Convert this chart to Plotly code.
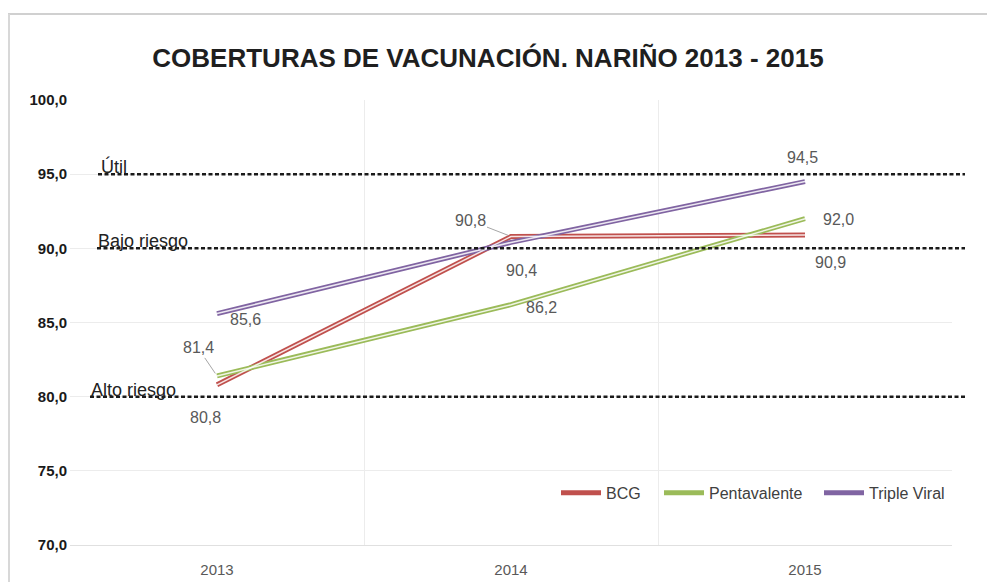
import plotly.graph_objects as go

years = ["2013", "2014", "2015"]
series_names = ["BCG", "Pentavalente", "Triple Viral"]
bcg = [80.8, 90.8, 90.9]
pentavalente = [81.4, 86.2, 92.0]
triple_viral = [85.6, 90.4, 94.5]
series_values = [bcg, pentavalente, triple_viral]
colors = ["#c0504d", "#9bbb59", "#8064a2"]

thresholds = [95.0, 90.0, 80.0]
threshold_labels = ["Útil", "Bajo riesgo", "Alto riesgo"]

FONT = "Liberation Sans Narrow, Arial Narrow, Liberation Sans, sans-serif"

# figure sized to fit the page body (which has an 8px default margin)
W, H = 987, 574
L, R, T, B = 62, 43, 92, 37
PW = W - L - R


def px_x(p):
    """pixel (reference) x -> paper x"""
    return (p - 8 - L) / PW


legend_ids = ["legend", "legend2", "legend3"]
legend_left_px = [556, 659, 819]

fig = go.Figure()
for name, vals, col, lg in zip(series_names, series_values, colors, legend_ids):
    fig.add_trace(go.Scatter(x=years, y=vals, mode="lines", name=name, legend=lg,
                             line=dict(color=col, width=5)))
for name, vals, col in zip(series_names, series_values, colors):
    fig.add_trace(go.Scatter(x=years, y=vals, mode="lines", name=name,
                             line=dict(color="rgba(255,255,255,0.85)", width=1.5),
                             showlegend=False, hoverinfo="skip"))

# threshold lines
line_start_px = [98, 97, 90]
label_start_px = [99, 96, 89]
for t, lab, ls, lb in zip(thresholds, threshold_labels, line_start_px, label_start_px):
    fig.add_shape(type="line", xref="paper", yref="y", x0=px_x(ls), x1=px_x(965), y0=t, y1=t,
                  line=dict(color="#1a1a1a", width=2.5, dash="4px,2.5px"))
    fig.add_annotation(xref="paper", yref="y", x=px_x(lb), y=t, text=lab, showarrow=False,
                       xanchor="left", yanchor="bottom", yshift=-5,
                       font=dict(family=FONT, size=18, color="#222222"))

# data labels: offsets per series/year (arrow offsets or plain shifts)
offsets = {
    ("BCG", 0): dict(ax=0, ay=0, xs=-12, ys=-33),
    ("BCG", 1): dict(ax=-41, ay=-16, xs=0, ys=0),
    ("BCG", 2): dict(ax=0, ay=0, xs=25, ys=-28),
    ("Pentavalente", 0): dict(ax=-19, ay=-28, xs=0, ys=0),
    ("Pentavalente", 1): dict(ax=0, ay=0, xs=30, ys=-3),
    ("Pentavalente", 2): dict(ax=0, ay=0, xs=33, ys=-1),
    ("Triple Viral", 0): dict(ax=0, ay=0, xs=28, ys=-6),
    ("Triple Viral", 1): dict(ax=0, ay=0, xs=10, ys=-28),
    ("Triple Viral", 2): dict(ax=0, ay=0, xs=-3, ys=24),
}
for name, vals in zip(series_names, series_values):
    for i, v in enumerate(vals):
        o = offsets[(name, i)]
        txt = f"{v:.1f}".replace(".", ",")
        if o["ax"] or o["ay"]:
            fig.add_annotation(x=i, y=v, text=txt, showarrow=True, arrowhead=0,
                               arrowwidth=1, arrowcolor="#a6a6a6", ax=o["ax"], ay=o["ay"],
                               standoff=3, font=dict(family=FONT, size=16, color="#595959"))
        else:
            fig.add_annotation(x=i, y=v, text=txt, showarrow=False,
                               xshift=o["xs"], yshift=o["ys"],
                               font=dict(family=FONT, size=16, color="#595959"))

legend_style = dict(orientation="h", xanchor="left", y=0.117, yanchor="middle",
                    bgcolor="rgba(0,0,0,0)", font=dict(family=FONT, size=16, color="#404040"),
                    itemwidth=40)

fig.update_layout(
    width=W, height=H,
    margin=dict(l=L, r=R, t=T, b=B, autoexpand=False),
    paper_bgcolor="white", plot_bgcolor="white",
    separators=",.",
    title=dict(text="<b>COBERTURAS DE VACUNACIÓN. NARIÑO 2013 - 2015</b>",
               x=(488 - 8) / W, xanchor="center", y=1 - 50 / H, yanchor="middle",
               yref="container", font=dict(family=FONT, size=26, color="#1f1f1f")),
    showlegend=True,
    legend=dict(x=px_x(legend_left_px[0]), **legend_style),
    legend2=dict(x=px_x(legend_left_px[1]), **legend_style),
    legend3=dict(x=px_x(legend_left_px[2]), **legend_style),
    xaxis=dict(type="category", range=[-0.5, 2.5], tickson="boundaries", showgrid=True,
               gridcolor="#ececec", ticks="", showline=True, linecolor="#e0e0e0",
               ticklabelstandoff=11, automargin=False,
               tickfont=dict(family=FONT, size=15, color="#595959"), zeroline=False),
    yaxis=dict(range=[70, 100], dtick=5, tickformat=".1f", showgrid=True, gridcolor="#ececec",
               zeroline=False, ticks="", showline=False, ticklabelstandoff=2, automargin=False,
               tickfont=dict(family=FONT, size=15, color="#1a1a1a", weight="bold")),
)

# outer frame (top and left edges)
fig.add_shape(type="line", xref="paper", yref="paper", x0=px_x(8), x1=1.1,
              y0=(H - B - 6) / (H - T - B), y1=(H - B - 6) / (H - T - B),
              line=dict(color="#d0d0d0", width=2))
fig.add_shape(type="line", xref="paper", yref="paper", x0=px_x(9), x1=px_x(9),
              y0=(H - B - 6) / (H - T - B), y1=-0.2,
              line=dict(color="#d8d8d8", width=2))

fig.write_html("out.html")
